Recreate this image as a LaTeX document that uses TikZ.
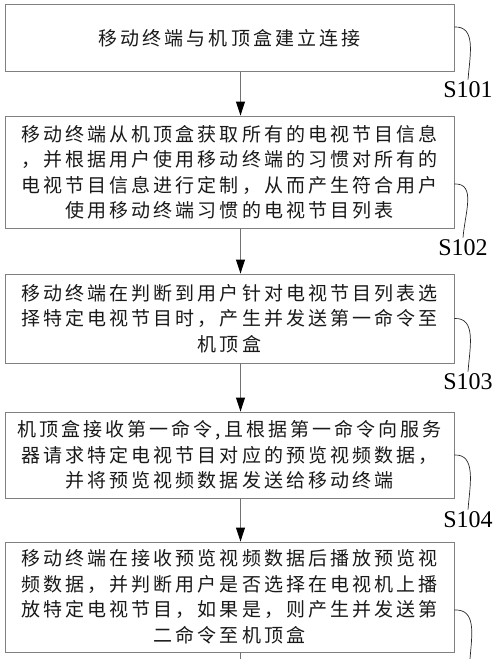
\documentclass[tikz,border=0pt]{standalone}
\usepackage{fontspec}
\setmainfont{Liberation Serif}
\newfontfamily\cjk{Noto Sans CJK SC}[LetterSpace=16]
\usetikzlibrary{arrows.meta}

\begin{document}
\begin{tikzpicture}[x=1pt,y=1pt,
    stepbox/.style={draw=black!50, line width=0.9pt, minimum width=449pt, inner sep=0pt,
        align=center, font=\cjk\fontsize{19}{25.5}\selectfont, text=black!90},
    flow/.style={draw=black!55, line width=0.9pt, -{Triangle[length=14pt,width=9pt,color=black]}},
    tag/.style={font=\fontsize{24}{24}\selectfont, inner sep=2pt},
    lead/.style={draw=black!85, line width=0.7pt}]
    \useasboundingbox (0,0) rectangle (500,-659);

    % Steps
    \node[stepbox, minimum height=67.5pt] (b1) at (229.5,-38) {移动终端与机顶盒建立连接};
    \node[stepbox, minimum height=112pt] (b2) at (229.5,-172) {移动终端从机顶盒获取所有的电视节目信息\\，并根据用户使用移动终端的习惯对所有的\\电视节目信息进行定制，从而产生符合用户\\使用移动终端习惯的电视节目列表};
    \node[stepbox, minimum height=89pt] (b3) at (229.5,-318.5) {移动终端在判断到用户针对电视节目列表选\\择特定电视节目时，产生并发送第一命令至\\机顶盒};
    \node[stepbox, minimum height=86pt] (b4) at (229.5,-455) {机顶盒接收第一命令,且根据第一命令向服务\\器请求特定电视节目对应的预览视频数据，\\并将预览视频数据发送给移动终端};
    \node[stepbox, minimum height=110pt] (b5) at (229.5,-597) {移动终端在接收预览视频数据后播放预览视\\频数据，并判断用户是否选择在电视机上播\\放特定电视节目，如果是，则产生并发送第\\二命令至机顶盒};

    % Step labels
    \node[tag] (s101) at (468,-90) {S101};
    \node[tag] (s102) at (463,-248) {S102};
    \node[tag] (s103) at (468,-382) {S103};
    \node[tag] (s104) at (468,-520) {S104};

    % Flow
    \coordinate (ax) at (240.5,0);
    \coordinate (out) at (240.5,-659);
    \draw[flow] (b1.south -| ax) -- (b2.north -| ax);
    \draw[flow] (b2.south -| ax) -- (b3.north -| ax);
    \draw[flow] (b3.south -| ax) -- (b4.north -| ax);
    \draw[flow] (b4.south -| ax) -- (b5.north -| ax);
    \draw[draw=black!55, line width=0.9pt] (b5.south -| ax) -- (out);

    % Leaders
    \coordinate (s105) at (470,-659);
    \draw[lead] ([yshift=11pt]b1.east) .. controls +(22,1) and +(2,25) .. (s101.north);
    \draw[lead] ([yshift=-12pt]b2.east) .. controls +(22,1) and +(2,25) .. (s102.north);
    \draw[lead] (b3.east) .. controls +(22,1) and +(2,25) .. (s103.north);
    \draw[lead] (b4.east) .. controls +(22,1) and +(2,25) .. (s104.north);
    \draw[lead] ([yshift=-13pt]b5.east) .. controls +(22,1) and +(2,25) .. (s105);
\end{tikzpicture}
\end{document}
